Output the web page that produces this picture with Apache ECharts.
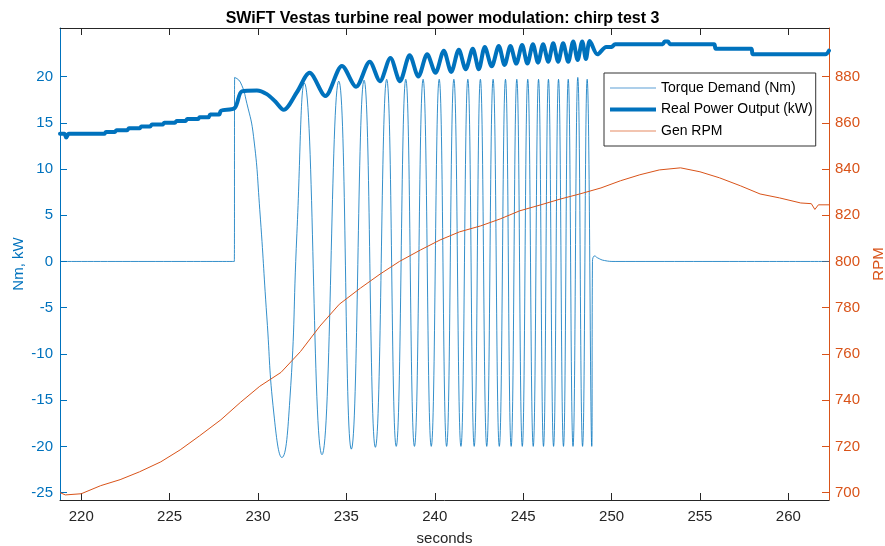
<!DOCTYPE html>
<html><head><meta charset="utf-8">
<script src="https://cdn.jsdelivr.net/npm/echarts@6/dist/echarts.min.js"></script>
<style>html,body{margin:0;padding:0;background:#fff}#c{width:885px;height:546px}</style>
</head><body><div id="c"></div>
<script>
const xTicks = [220,225,230,235,240,245,250,255,260];
const leftTicks = [-25,-20,-15,-10,-5,0,5,10,15,20];
const rightTicks = [700,720,740,760,780,800,820,840,860,880];

const torqueT = [218.8,228.66,228.68,229.0,229.37,229.75,230.1,230.5,230.9,231.35,231.8,232.2,232.62,
  233.62,234.57,235.28,236.0,236.64,237.28,237.82,238.36,238.85,239.34,239.8,240.25,240.67,241.08,241.48,241.87,
  242.23,242.58,242.94,243.30,243.65,244.0,244.32,244.64,244.95,245.26,245.57,245.87,246.15,246.43,246.72,247.0,
  247.28,247.55,247.82,248.09,248.36,248.62,248.88,248.92,249.05,249.2,249.6,250.2,262.3];
const torqueV = [0,0,19.9,19.4,17.1,13.5,5.6,-6,-16.5,-21.2,-15,3,19.3,
  -20.9,19.5,-20.3,19.6,-20.1,19.7,-20,19.7,-20,19.7,-20,19.7,-20,19.7,-20,19.7,
  -20,19.7,-20,19.7,-20,19.7,-20,19.7,-20,19.7,-20,19.7,-20,19.7,-20,19.7,
  -20,19.7,-20,19.9,-20,19.7,-20,0,0.6,0.4,0.1,0,0];

const powerT = [218.8,219.05,219.15,219.3,221.3,221.4,221.9,222.0,222.6,222.7,223.3,223.4,223.9,224.0,224.6,224.7,225.3,225.4,225.9,226.0,226.6,226.7,227.2,227.3,227.8,227.9,228.68,
  229.09,229.94,230.5,230.98,231.45,232.2,
  232.92,233.81,234.75,235.55,236.32,236.9,237.49,238.03,238.58,239.07,239.57,240.04,240.51,240.93,241.36,241.75,242.15,242.49,242.83,243.22,
  243.62,243.95,244.28,244.61,244.94,245.24,245.55,245.84,246.13,246.42,246.70,246.98,247.26,247.55,247.83,248.08,248.34,248.55,248.77,
  249.2,249.7,250.0,250.2,252.9,253.0,253.2,253.3,255.8,255.9,257.9,258.0,262.1,262.3];
const powerV = [13.8,13.8,13.4,13.8,13.8,14.0,14.0,14.2,14.2,14.4,14.4,14.6,14.6,14.8,14.8,15.0,15.0,15.2,15.2,15.4,15.4,15.6,15.6,15.9,15.9,16.3,16.6,
  18.4,18.5,18.1,17.3,16.4,18.3,
  20.4,17.9,21.15,18.9,21.6,19.5,22.0,19.5,22.3,20.0,22.4,20.4,22.8,20.5,22.9,20.8,23.0,20.8,23.2,21.1,
  23.3,21.25,23.3,21.4,23.4,21.4,23.5,21.5,23.5,21.6,23.6,21.6,23.6,21.6,23.8,21.8,23.8,21.9,23.85,
  22.4,23.2,23.2,23.5,23.5,23.8,23.8,23.5,23.5,23.0,23.0,22.4,22.4,22.8];

const rpmT = [218.8,219.1,220.0,221.1,222.2,223.3,224.5,225.6,226.7,227.9,229.0,230.1,231.3,232.4,233.5,234.6,235.8,236.9,238.0,239.2,240.3,241.4,242.6,243.7,244.8,246.0,247.1,248.2,249.4,250.5,251.6,252.7,253.9,255.0,256.1,257.3,258.4,259.5,260.7,261.3,261.5,261.7,262.3];
const rpmV = [700,699,699.5,703,705.6,709,713.3,718.5,724.6,731.5,739,746,752,761,772,781.5,788.5,794.5,800,805,809.3,812.8,815.4,818.4,821.9,824.5,827,829.2,831.8,834.9,837.5,839.6,840.5,838.8,836.2,832.7,829.2,827.5,825.3,825,822.5,824.5,824.5];

const zip = (a, b) => a.map((t, i) => [t, b[i]]);
const BLUE = '#0072BD', ORANGE = '#D95319', DARK = '#262626';
const FONT = 'Liberation Sans, Arial, Helvetica, sans-serif';

const chart = echarts.init(document.getElementById('c'), null, {renderer: 'canvas'});
chart.setOption({
  animation: false,
  backgroundColor: '#fff',
  textStyle: {fontFamily: FONT},
  title: {
    text: 'SWiFT Vestas turbine real power modulation: chirp test 3',
    left: 'center', top: 6,
    textStyle: {fontSize: 16, fontWeight: 'bold', color: '#000', fontFamily: FONT}
  },
  grid: {left: 60, right: 56, top: 28, bottom: 46, containLabel: false, outerBoundsMode: 'none'},
  legend: {
    orient: 'vertical', left: 604, top: 73,
    itemWidth: 46, itemHeight: 14, itemGap: 7.5,
    padding: [8, 3, 8, 6],
    backgroundColor: '#fff', borderColor: '#333', borderWidth: 1,
    textStyle: {fontSize: 14, color: '#000', fontFamily: FONT},
    data: [
      {name: 'Torque Demand (Nm)', icon: 'path://M0,0H46V1H0Z', itemStyle: {color: '#5c9fd6'}},
      {name: 'Real Power Output (kW)', icon: 'path://M0,0H46V4H0Z', itemStyle: {color: BLUE}},
      {name: 'Gen RPM', icon: 'path://M0,0H46V1H0Z', itemStyle: {color: '#E68A63'}}
    ]
  },
  xAxis: [{
    type: 'value', min: 218.8, max: 262.3, position: 'bottom',
    name: 'seconds', nameLocation: 'middle', nameGap: 31,
    nameTextStyle: {fontSize: 15, color: DARK, fontFamily: FONT},
    axisLine: {show: true, onZero: false, lineStyle: {color: DARK, width: 1}},
    axisTick: {show: true, inside: true, length: 7, customValues: xTicks, lineStyle: {color: DARK}},
    axisLabel: {customValues: xTicks, color: DARK, fontSize: 15, margin: 9, fontFamily: FONT},
    splitLine: {show: false}
  }, {
    type: 'value', min: 218.8, max: 262.3, position: 'top',
    axisLine: {show: true, onZero: false, lineStyle: {color: DARK, width: 1}},
    axisTick: {show: true, inside: true, length: 7, customValues: xTicks, lineStyle: {color: DARK}},
    axisLabel: {show: false},
    splitLine: {show: false}
  }],
  yAxis: [{
    type: 'value', min: -25.8, max: 25.25, position: 'left',
    name: 'Nm, kW', nameLocation: 'middle', nameGap: 34, nameMoveOverlap: false,
    nameTextStyle: {fontSize: 15, color: BLUE, fontFamily: FONT},
    axisLine: {show: true, onZero: false, lineStyle: {color: BLUE, width: 1}},
    axisTick: {show: true, inside: true, length: 7, customValues: leftTicks, lineStyle: {color: BLUE}},
    axisLabel: {customValues: leftTicks, color: BLUE, fontSize: 15, margin: 7, fontFamily: FONT},
    splitLine: {show: false}
  }, {
    type: 'value', min: 696.8, max: 901.0, position: 'right',
    name: 'RPM', nameLocation: 'middle', nameGap: 42,
    nameTextStyle: {fontSize: 15, color: ORANGE, fontFamily: FONT},
    axisLine: {show: true, onZero: false, lineStyle: {color: ORANGE, width: 1}},
    axisTick: {show: true, inside: true, length: 7, customValues: rightTicks, lineStyle: {color: ORANGE}},
    axisLabel: {customValues: rightTicks, color: ORANGE, fontSize: 15, margin: 6, fontFamily: FONT},
    splitLine: {show: false}
  }],
  series: [{
    name: 'Torque Demand (Nm)', type: 'line', xAxisIndex: 0, yAxisIndex: 0,
    data: zip(torqueT, torqueV), symbol: 'none', smooth: 0.5,
    lineStyle: {color: BLUE, width: 0.8}, itemStyle: {color: BLUE}, z: 2
  }, {
    name: 'Real Power Output (kW)', type: 'line', xAxisIndex: 0, yAxisIndex: 0,
    data: zip(powerT, powerV), symbol: 'none', smooth: 0.3,
    lineStyle: {color: BLUE, width: 4, join: 'round', cap: 'round'}, itemStyle: {color: BLUE}, z: 3
  }, {
    name: 'Gen RPM', type: 'line', xAxisIndex: 0, yAxisIndex: 1,
    data: zip(rpmT, rpmV), symbol: 'none',
    lineStyle: {color: ORANGE, width: 1}, itemStyle: {color: ORANGE}, z: 4
  }]
});
</script></body></html>
